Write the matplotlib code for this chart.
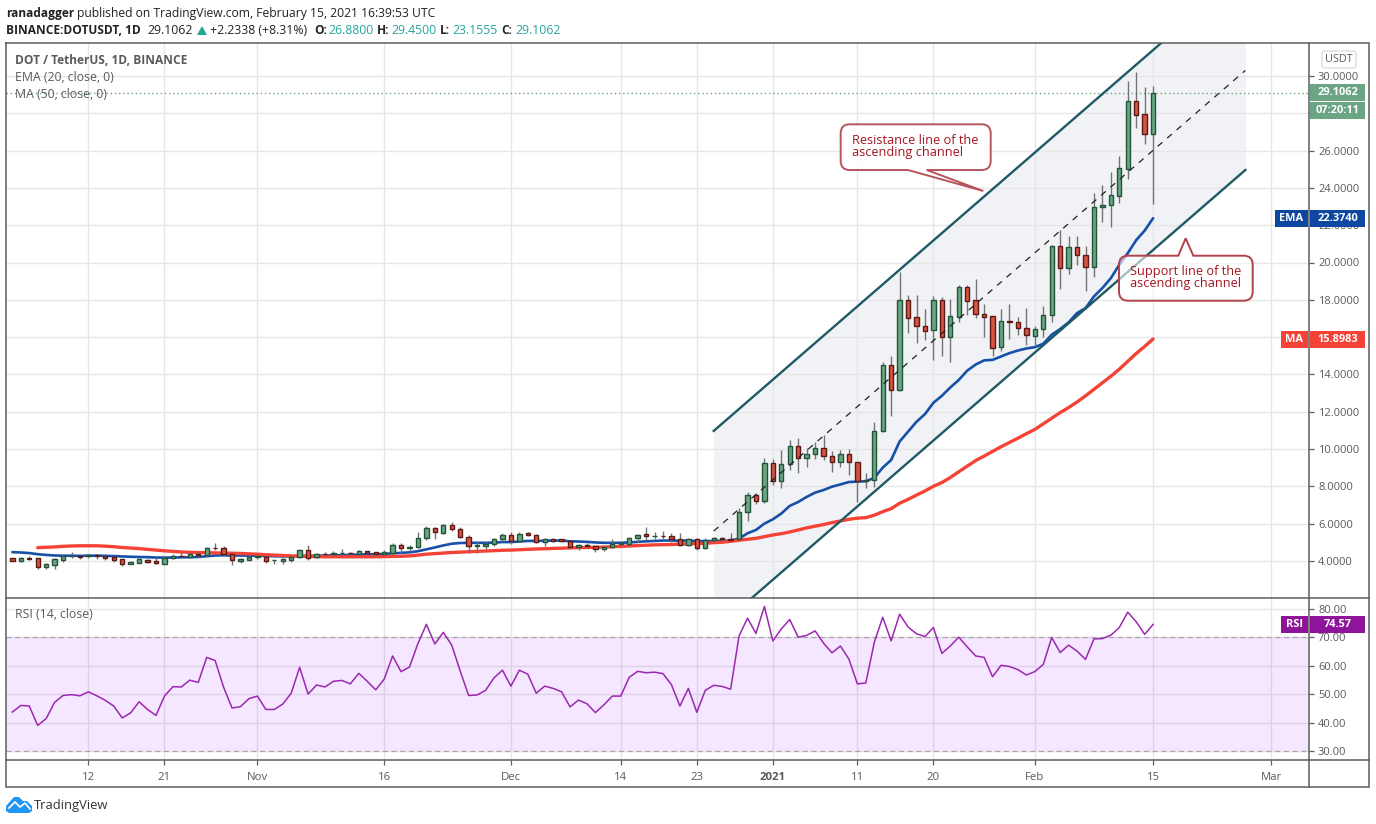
import pandas as pd
import matplotlib
matplotlib.use('Agg')
import matplotlib.pyplot as plt
import matplotlib.dates as mdates
from matplotlib.path import Path
from matplotlib.patches import PathPatch, FancyBboxPatch, Rectangle, Polygon

plt.rcParams['font.family'] = ['Open Sans', 'DejaVu Sans']

# daily candles, 3 Oct 2020 to 15 Feb 2021
start_date = '2020-10-03'
end_date = '2021-02-15'

opens = [4.15, 4.02, 4.15, 4.15, 3.67, 3.80, 4.07, 4.24, 4.25, 4.24, 4.31, 4.25, 4.20, 4.09, 3.85, 3.91, 4.07,
         3.98, 3.85, 4.13, 4.27, 4.22, 4.38, 4.29, 4.71, 4.67, 4.36, 4.02, 4.07, 4.20, 4.20, 4.04, 4.02, 4.07,
         4.20, 4.58, 4.20, 4.38, 4.35, 4.40, 4.44, 4.38, 4.53, 4.47, 4.35, 4.44, 4.85, 4.67, 4.73, 5.22, 5.78,
         5.49, 5.95, 5.73, 5.29, 4.80, 4.78, 4.91, 5.16, 5.40, 5.05, 5.47, 5.40, 5.02, 5.18, 5.15, 5.07, 4.73,
         4.87, 4.80, 4.62, 4.73, 4.91, 4.89, 5.22, 5.42, 5.33, 5.36, 5.35, 5.18, 4.84, 5.18, 4.67, 5.11, 5.24,
         5.20, 5.16, 6.64, 7.55, 7.23, 9.27, 8.29, 9.20, 10.18, 9.52, 9.73, 10.07, 9.64, 9.30, 9.75, 9.32, 8.30,
         8.36, 10.96, 14.50, 13.16, 18.00, 17.06, 16.58, 16.37, 17.97, 15.99, 17.10, 18.71, 17.97, 17.22, 17.11,
         15.46, 16.85, 16.79, 16.50, 16.08, 16.43, 17.16, 20.87, 19.70, 20.82, 20.39, 19.75, 22.96, 23.07, 23.59,
         25.00, 28.64, 27.95, 26.88]
highs = [4.17, 4.22, 4.24, 4.18, 3.87, 4.15, 4.36, 4.47, 4.27, 4.36, 4.38, 4.36, 4.24, 4.11, 4.00, 4.13, 4.11,
         4.18, 4.25, 4.35, 4.47, 4.40, 4.49, 4.76, 4.98, 4.80, 4.42, 4.13, 4.33, 4.27, 4.22, 4.05, 4.13, 4.27,
         4.62, 4.87, 4.40, 4.49, 4.53, 4.65, 4.49, 4.58, 4.55, 4.49, 4.58, 4.96, 4.96, 4.85, 5.53, 5.85, 5.84,
         5.98, 6.11, 5.84, 5.40, 5.07, 5.00, 5.25, 5.47, 5.56, 5.55, 5.56, 5.45, 5.22, 5.24, 5.20, 5.09, 4.91,
         4.96, 4.82, 4.78, 5.15, 5.07, 5.29, 5.45, 5.80, 5.55, 5.62, 5.47, 5.47, 5.25, 5.22, 5.25, 5.27, 5.27,
         5.51, 6.86, 7.71, 7.66, 9.54, 9.45, 9.93, 10.50, 10.57, 10.07, 10.39, 10.75, 9.88, 9.93, 10.02, 9.32, 8.73,
         11.46, 14.68, 15.00, 19.50, 18.25, 18.25, 17.50, 18.20, 18.15, 18.02, 18.77, 18.77, 19.10, 17.77, 17.11,
         17.49, 17.77, 17.08, 17.54, 16.60, 17.68, 20.95, 21.75, 21.43, 21.43, 20.86, 23.71, 24.16, 24.86, 25.71,
         29.71, 30.20, 29.39, 29.45]
lows = [4.00, 3.96, 4.07, 3.58, 3.56, 3.56, 3.96, 4.18, 4.11, 4.18, 4.11, 4.07, 3.96, 3.75, 3.84, 3.91, 3.91,
        3.84, 3.85, 4.09, 4.20, 4.18, 4.22, 4.27, 4.60, 4.27, 3.78, 3.91, 4.04, 4.09, 3.91, 3.84, 3.84, 3.96,
        4.16, 4.05, 4.13, 4.25, 4.31, 4.38, 4.33, 4.35, 4.33, 4.24, 4.31, 4.36, 4.45, 4.53, 4.69, 5.11, 5.15,
        5.44, 5.62, 5.22, 4.40, 4.42, 4.65, 4.78, 5.05, 4.89, 5.00, 5.31, 4.96, 4.82, 5.00, 5.02, 4.71, 4.60,
        4.69, 4.49, 4.53, 4.71, 4.85, 4.82, 5.02, 5.11, 5.20, 5.18, 5.00, 4.78, 4.78, 4.56, 4.64, 5.02, 5.07,
        5.05, 5.13, 6.14, 7.05, 7.11, 8.05, 7.89, 8.88, 8.71, 9.04, 9.45, 9.39, 8.77, 9.04, 8.59, 7.16, 7.91,
        7.96, 10.90, 11.77, 13.10, 16.24, 15.70, 15.85, 14.78, 14.96, 14.69, 16.83, 17.17, 17.04, 15.98, 15.00,
        15.23, 15.92, 16.12, 15.60, 15.50, 15.98, 16.79, 18.57, 19.38, 19.86, 18.45, 19.20, 22.18, 21.88, 23.21,
        24.48, 27.23, 26.36, 23.1555]
closes = [4.02, 4.15, 4.11, 3.69, 3.82, 4.09, 4.25, 4.27, 4.22, 4.31, 4.24, 4.18, 4.07, 3.85, 3.95, 4.09, 3.96,
          3.87, 4.15, 4.25, 4.24, 4.36, 4.29, 4.69, 4.67, 4.35, 4.04, 4.09, 4.20, 4.24, 4.02, 4.05, 4.11, 4.20,
          4.58, 4.18, 4.36, 4.35, 4.42, 4.44, 4.40, 4.53, 4.45, 4.35, 4.47, 4.85, 4.67, 4.75, 5.24, 5.78, 5.56,
          5.95, 5.73, 5.27, 4.78, 4.84, 4.93, 5.18, 5.40, 5.05, 5.45, 5.38, 5.00, 5.18, 5.09, 5.07, 4.73, 4.85,
          4.78, 4.62, 4.75, 4.93, 4.96, 5.24, 5.40, 5.33, 5.36, 5.33, 5.15, 4.84, 5.18, 4.67, 5.13, 5.24, 5.16,
          5.11, 6.64, 7.55, 7.23, 9.27, 8.29, 9.21, 10.18, 9.54, 9.75, 10.07, 9.63, 9.32, 9.75, 9.32, 8.30, 8.36,
          10.98, 14.50, 13.16, 18.00, 17.04, 16.58, 16.35, 17.97, 15.99, 17.11, 18.70, 17.95, 17.22, 17.10, 15.40,
          16.85, 16.79, 16.50, 16.10, 16.42, 17.16, 20.87, 19.70, 20.82, 20.39, 19.75, 22.96, 23.07, 23.63, 25.05,
          28.64, 27.93, 26.88, 29.1062]

ema20 = [4.47, 4.45, 4.42, 4.36, 4.32, 4.29, 4.28, 4.28, 4.27, 4.28, 4.28, 4.27, 4.26, 4.24, 4.22, 4.21, 4.20,
         4.18, 4.18, 4.18, 4.19, 4.20, 4.21, 4.25, 4.29, 4.30, 4.29, 4.29, 4.28, 4.28, 4.26, 4.25, 4.24, 4.24,
         4.27, 4.27, 4.28, 4.29, 4.30, 4.31, 4.32, 4.34, 4.35, 4.36, 4.37, 4.41, 4.43, 4.46, 4.52, 4.62, 4.72,
         4.83, 4.92, 4.96, 4.97, 4.97, 4.97, 4.98, 5.01, 5.01, 5.04, 5.07, 5.07, 5.08, 5.09, 5.09, 5.05, 5.04,
         5.02, 4.99, 4.97, 4.97, 4.97, 4.99, 5.02, 5.05, 5.07, 5.09, 5.09, 5.08, 5.09, 5.06, 5.06, 5.07, 5.08,
         5.09, 5.20, 5.48, 5.66, 6.00, 6.23, 6.54, 6.95, 7.16, 7.43, 7.66, 7.80, 7.98, 8.10, 8.23, 8.25, 8.27,
         8.45, 9.00, 9.41, 10.40, 10.93, 11.46, 11.87, 12.48, 12.85, 13.30, 13.70, 14.20, 14.53, 14.75, 14.78,
         14.96, 15.14, 15.28, 15.39, 15.46, 15.64, 16.13, 16.43, 16.79, 17.29, 17.55, 18.18, 18.63, 19.16, 19.88,
         20.50, 21.20, 21.71, 22.374]
# the MA line only starts on the 4th candle in the picture
ma50 = [4.71, 4.73, 4.75, 4.78, 4.80, 4.81, 4.81, 4.81, 4.79, 4.76, 4.72, 4.69, 4.66, 4.62, 4.58, 4.54, 4.51,
        4.48, 4.46, 4.45, 4.44, 4.43, 4.42, 4.41, 4.40, 4.38, 4.36, 4.33, 4.31, 4.29, 4.27, 4.25, 4.24, 4.23,
        4.22, 4.22, 4.22, 4.22, 4.22, 4.22, 4.22, 4.23, 4.24, 4.25, 4.27, 4.31, 4.36, 4.39, 4.42, 4.45, 4.47,
        4.49, 4.51, 4.53, 4.55, 4.57, 4.58, 4.60, 4.62, 4.64, 4.65, 4.67, 4.68, 4.70, 4.71, 4.72, 4.73, 4.74,
        4.76, 4.78, 4.80, 4.82, 4.84, 4.86, 4.87, 4.88, 4.90, 4.91, 4.93, 4.94, 4.98, 5.00, 5.05, 5.11, 5.16,
        5.21, 5.30, 5.39, 5.46, 5.55, 5.66, 5.77, 5.86, 5.95, 6.05, 6.14, 6.23, 6.29, 6.32, 6.45, 6.64, 6.80,
        7.09, 7.30, 7.53, 7.75, 8.00, 8.20, 8.47, 8.78, 9.08, 9.38, 9.62, 9.87, 10.12, 10.35, 10.58, 10.82,
        11.05, 11.35, 11.65, 11.95, 12.22, 12.52, 12.85, 13.20, 13.55, 13.90, 14.28, 14.70, 15.12, 15.50, 15.8983]
rsi = [43.8, 46.1, 45.9, 39.1, 41.5, 47.2, 49.6, 49.9, 49.5, 50.9, 49.5, 47.9, 45.9, 41.7, 43.5, 47.4, 44.7,
       42.6, 49.4, 52.7, 52.6, 55.0, 54.2, 63.0, 61.9, 52.5, 45.2, 45.7, 48.5, 49.4, 44.7, 44.7, 46.6, 50.4,
       59.5, 50.1, 53.3, 52.6, 54.6, 54.9, 53.7, 57.4, 54.6, 51.6, 55.3, 63.5, 58.0, 59.6, 67.9, 74.6, 67.7,
       71.8, 67.3, 58.2, 49.6, 49.8, 51.4, 55.8, 58.5, 52.9, 58.5, 57.1, 50.4, 52.9, 52.1, 50.9, 45.6, 48.0,
       46.7, 43.6, 46.3, 49.4, 49.4, 56.0, 58.1, 57.6, 57.8, 57.3, 53.4, 45.9, 52.1, 43.7, 51.4, 53.2, 52.8,
       51.8, 70.5, 76.8, 71.4, 80.9, 68.8, 73.0, 76.3, 70.1, 70.7, 72.3, 68.0, 64.6, 67.0, 62.4, 53.7, 54.0,
       68.2, 77.1, 68.8, 78.2, 73.7, 71.3, 70.3, 73.5, 64.4, 67.0, 70.1, 66.7, 63.5, 63.0, 56.2, 60.2, 59.8,
       58.7, 56.8, 58.0, 60.5, 70.0, 64.7, 67.3, 65.2, 62.3, 69.5, 69.6, 70.8, 73.5, 78.9, 75.5, 71.1, 74.57]

# channel drawn on the chart: dates and prices at both ends
channel_dates = ['2020-12-25 00:00', '2021-02-25 22:00']
channel_top = [10.97, 35.68]
channel_mid = [5.60, 30.30]
channel_bottom = [0.24, 24.96]

price_ticks = [4, 6, 8, 10, 12, 14, 16, 18, 20, 22, 24, 26, 28, 30]
# 16 and 28 sit fully behind the MA and countdown flags
hidden_price_labels = [16, 28]
rsi_ticks = [30, 40, 50, 60, 70, 80]
date_ticks = ['2020-10-12', '2020-10-21', '2020-11-01', '2020-11-16', '2020-12-01', '2020-12-14', '2020-12-23',
              '2021-01-01', '2021-01-11', '2021-01-20', '2021-02-01', '2021-02-15', '2021-03-01']
date_labels = ['12', '21', 'Nov', '16', 'Dec', '14', '23', '2021', '11', '20', 'Feb', '15', 'Mar']

W, H = 1376, 824
GREEN = '#6ba583'
RED = '#d75442'
GRID = '#e6e6e6'
TXT = '#5a5a5a'
FRAME = '#5d5d5d'


def pane(fig, left, top, right, bottom):
    # axes placed by pixel edges
    return fig.add_axes([left / W, 1 - bottom / H, (right - left) / W, (bottom - top) / H])


def rounded_box(x0, y0, x1, y1, r, tail_a, tail_tip, tail_b, tail_on_top):
    # rounded box with a pointer, in pixels (y grows downward)
    v = [(x0 + r, y0)]
    c = [Path.MOVETO]
    if tail_on_top:
        v += [tail_a, tail_tip, tail_b]
        c += [Path.LINETO] * 3
    v += [(x1 - r, y0), (x1, y0), (x1, y0 + r), (x1, y1 - r), (x1, y1), (x1 - r, y1)]
    c += [Path.LINETO, Path.CURVE3, Path.CURVE3, Path.LINETO, Path.CURVE3, Path.CURVE3]
    if not tail_on_top:
        v += [tail_b, tail_tip, tail_a]
        c += [Path.LINETO] * 3
    v += [(x0 + r, y1), (x0, y1), (x0, y1 - r), (x0, y0 + r), (x0, y0), (x0 + r, y0), (x0 + r, y0)]
    c += [Path.LINETO, Path.CURVE3, Path.CURVE3, Path.LINETO, Path.CURVE3, Path.CURVE3, Path.CLOSEPOLY]
    return Path(v, c)


def main():
    dates = pd.date_range(start_date, end_date)
    x = mdates.date2num(dates)
    px_per_day = 8.45
    x_zero = mdates.date2num(pd.Timestamp('2020-10-12'))
    xlim = (x_zero + (6 - 88.4) / px_per_day, x_zero + (1309 - 88.4) / px_per_day)
    tick_x = mdates.date2num(pd.to_datetime(date_ticks))

    fig = plt.figure(figsize=(W / 100, H / 100), dpi=100, facecolor='white')
    ax = pane(fig, 6, 43, 1309, 597.5)
    ax2 = pane(fig, 6, 597.5, 1309, 760)

    # price pane
    ax.set_xlim(xlim)
    ax.set_ylim(30 - (597.5 - 76) / 18.65, 30 + (76 - 43) / 18.65)
    ax.set_axisbelow(True)
    ax.grid(True, color=GRID, lw=1.0)
    ax.set_xticks(tick_x)
    ax.set_xticklabels([])
    ax.tick_params(axis='x', length=0)
    ax.set_yticks(price_ticks)
    ax.set_yticklabels(['' if p in hidden_price_labels else '%.4f' % p for p in price_ticks])
    ax.yaxis.tick_right()
    ax.tick_params(axis='y', length=3.5, width=0.9, color=FRAME, labelcolor=TXT, labelsize=8.0, pad=3)

    chan_x = mdates.date2num(pd.to_datetime(channel_dates))
    ax.fill_between(chan_x, channel_bottom, channel_top, color='#f0f2f5', lw=0, zorder=0.3)

    ax.plot(x, ema20, color='#1750a8', lw=1.9, zorder=2, solid_capstyle='round')
    ax.plot(x[3:], ma50, color='#f44336', lw=2.4, zorder=2, solid_capstyle='round')

    up = [c >= o for o, c in zip(opens, closes)]
    ax.vlines(x, lows, highs, color='#737375', lw=1.0, zorder=3)
    ax.bar(x, [abs(c - o) for o, c in zip(opens, closes)], bottom=[min(o, c) for o, c in zip(opens, closes)],
           width=0.52, color=[GREEN if u else RED for u in up],
           edgecolor=['#225437' if u else '#5b1a13' for u in up], linewidth=1.0, zorder=3.2)

    ax.plot(chan_x, channel_top, color='#1d5a63', lw=1.7, zorder=4)
    ax.plot(chan_x, channel_bottom, color='#1d5a63', lw=1.7, zorder=4)
    ax.plot(chan_x, channel_mid, color='#222222', lw=0.9, ls=(0, (5, 5)), zorder=4)
    ax.axhline(closes[-1], color=GREEN, lw=1.0, ls=(0, (1, 2)), zorder=2.5)

    # rsi pane
    ax2.set_xlim(xlim)
    ax2.set_ylim(30 - (760 - 751.3) / 2.846, 80 + (609 - 597.5) / 2.846)
    ax2.set_axisbelow(True)
    ax2.grid(True, color=GRID, lw=1.0)
    ax2.axhspan(30, 70, color='#9915ff', alpha=0.1, lw=0, zorder=1)
    ax2.axhline(70, color='#a8a8a8', lw=0.9, ls=(0, (4, 3)), zorder=1.5)
    ax2.axhline(30, color='#a8a8a8', lw=0.9, ls=(0, (4, 3)), zorder=1.5)
    ax2.plot(x, rsi, color='#9c27b0', lw=1.1, zorder=2)
    ax2.set_yticks(rsi_ticks)
    ax2.set_yticklabels(['%.2f' % r for r in rsi_ticks])
    ax2.yaxis.tick_right()
    ax2.tick_params(axis='y', length=3.5, width=0.9, color=FRAME, labelcolor=TXT, labelsize=8.0, pad=3)
    ax2.set_xticks(tick_x)
    ax2.set_xticklabels(date_labels)
    ax2.tick_params(axis='x', length=3.5, width=0.9, color=FRAME, labelcolor=TXT, labelsize=8.2, pad=5)
    for lab in ax2.get_xticklabels():
        if lab.get_text() == '2021':
            lab.set_fontweight('bold')
    for a in (ax, ax2):
        for s in a.spines.values():
            s.set_visible(False)

    # overlay in pixels for header, frames, price flags and callouts
    ov = fig.add_axes([0, 0, 1, 1], facecolor='none', zorder=10)
    ov.set_xlim(0, W)
    ov.set_ylim(H, 0)
    ov.axis('off')

    for xs, ys in [([6, 1369, 1369, 6, 6], [43, 43, 787, 787, 43]), ([1309, 1309], [43, 787]),
                   ([6, 1369], [597.5, 597.5]), ([6, 1369], [760, 760])]:
        ov.plot(xs, ys, color=FRAME, lw=1.1, solid_joinstyle='miter')

    def label(px, py, s, color='#222222', weight='normal', size=8.8, ha='left'):
        ov.text(px, py, s, color=color, fontweight=weight, fontsize=size, ha=ha, va='center')

    # header
    label(6, 13, 'ranadagger', weight='bold', size=8.6)
    label(77, 13, 'published on TradingView.com, February 15, 2021 16:39:53 UTC', size=8.75)
    label(6, 30, 'BINANCE:DOTUSDT, 1D', weight='bold', size=8.6)
    label(147, 30, '29.1062', size=8.8)
    ov.add_patch(Polygon([(197, 35), (207, 35), (202, 26)], color='#26a69a', lw=0))
    label(210, 30, '+2.2338 (+8.31%)', size=8.8)
    for px, name, pv, val in [(314, 'O:', 328, '26.8800'), (377, 'H:', 391, '29.4500'),
                              (440, 'L:', 452, '23.1555'), (501, 'C:', 515, '29.1062')]:
        label(px, 30, name, weight='bold', size=8.6)
        label(pv, 30, val, color='#26a69a', size=8.8)

    # pane legends
    label(15, 60, 'DOT / TetherUS, 1D, BINANCE', color=TXT, weight='bold', size=8.6)
    label(15, 77, 'EMA (20, close, 0)', color=TXT, size=8.8)
    label(15, 94, 'MA (50, close, 0)', color=TXT, size=8.8)
    label(15, 614, 'RSI (14, close)', color=TXT, size=8.8)

    # flags on the price scale
    def flag(y0, y1, color, s, name=None, name_x=None):
        ov.add_patch(Rectangle((1310, y0), 55, y1 - y0, color=color, lw=0))
        label(1337.5, (y0 + y1) / 2, s, color='white', weight='bold', size=7.9, ha='center')
        if name:
            ov.add_patch(Rectangle((name_x, y0), 1308 - name_x, y1 - y0, color=color, lw=0))
            label((name_x + 1308) / 2, (y0 + y1) / 2, name, color='white', weight='bold', size=7.9, ha='center')

    flag(84, 101, GREEN, '%.4f' % closes[-1])
    flag(102, 119, GREEN, '07:20:11')
    flag(210, 227, '#0d47a1', '%.4f' % ema20[-1], 'EMA', 1275)
    flag(331, 348, '#f44336', '%.4f' % ma50[-1], 'MA', 1281)
    flag(616, 633, '#8e1599', '%.2f' % rsi[-1], 'RSI', 1281)

    ov.add_patch(FancyBboxPatch((1322, 51), 34, 17, boxstyle='round,pad=0,rounding_size=3', fc='white',
                                ec='#dcdce6', lw=1.0))
    label(1339, 59.5, 'USDT', color=TXT, size=7.8, ha='center')

    # callouts
    edge = '#b0424a'
    ov.add_patch(PathPatch(rounded_box(840.7, 124.3, 990.7, 170, 9, (908, 170), (983.3, 191), (926.7, 170), False),
                           fc='white', ec=edge, lw=1.4, alpha=0.9))
    label(852, 140.5, 'Resistance line of the', color='#a31621', size=9.2)
    label(852, 152.7, 'ascending channel', color='#a31621', size=9.2)
    ov.add_patch(PathPatch(rounded_box(1119, 255.7, 1252.7, 300.7, 9, (1178.3, 255.7), (1185.7, 238.3), (1193.3, 255.7), True),
                           fc=(1, 1, 1, 0.6), ec=edge, lw=1.4))
    label(1130, 271.5, 'Support line of the', color='#a31621', size=9.2)
    label(1130, 284, 'ascending channel', color='#a31621', size=9.2)

    # logo
    ov.add_patch(Polygon([(6, 811), (6, 806), (14, 797), (19, 797), (23, 801), (27, 801), (32, 806), (32, 811), (29, 813),
                          (9, 813)], color='#2196f3', lw=0))
    ov.plot([9, 15, 20, 25, 30], [808, 802, 807, 803, 809], color='white', lw=1.2)
    label(34, 805, 'TradingView', color='#333333', size=9.4)

    fig.savefig('out.png', dpi=100)


if __name__ == "__main__":
    main()
